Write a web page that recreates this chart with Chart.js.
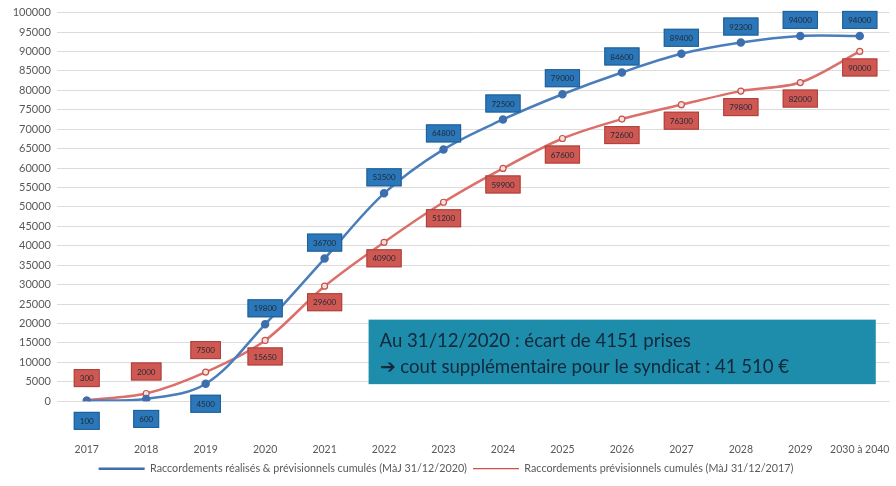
<!DOCTYPE html>
<html>
<head>
<meta charset="utf-8">
<script src="https://cdn.jsdelivr.net/npm/chart.js@4.4.1/dist/chart.umd.min.js"></script>
<style>
  html, body { margin: 0; padding: 0; background: #fff; }
  #wrap { width: 896px; height: 486px; }
</style>
</head>
<body>
<div id="wrap"><canvas id="chart" width="896" height="486"></canvas></div>
<script>
const years = ["2017", "2018", "2019", "2020", "2021", "2022", "2023", "2024", "2025", "2026", "2027", "2028", "2029", "2030 à 2040"];
const realises = [100, 600, 4500, 19800, 36700, 53500, 64800, 72500, 79000, 84600, 89400, 92300, 94000, 94000];
const previsionnels = [300, 2000, 7500, 15650, 29600, 40900, 51200, 59900, 67600, 72600, 76300, 79800, 82000, 90000];
const legendRealises = "Raccordements réalisés & prévisionnels cumulés (MàJ 31/12/2020)";
const legendPrevisionnels = "Raccordements prévisionnels cumulés (MàJ 31/12/2017)";
const noteLines = ["Au 31/12/2020 : écart de 4151 prises", "\u2794 cout supplémentaire pour le syndicat : 41 510 €"];

const blue = '#4a7ebb';
const red = '#dc6f69';
const tickColor = '#595959';
const font = 'Lato';

// value boxes like the Excel data labels
const valueBoxes = {
  id: 'valueBoxes',
  afterDatasetsDraw(chart) {
    const ctx = chart.ctx;
    ctx.save();
    ctx.font = `8px ${font}`;
    ctx.textAlign = 'center';
    ctx.textBaseline = 'middle';
    chart.data.datasets.forEach((ds, di) => {
      const meta = chart.getDatasetMeta(di);
      meta.data.forEach((pt, i) => {
        const txt = String(ds.data[i]);
        let dy;
        if (di === 0) dy = i < 3 ? 20 : -16;
        else dy = i < 3 ? -22 : 16;
        const w = ctx.measureText(txt).width + 12;
        const h = 18;
        const x = pt.x, y = pt.y + dy;
        ctx.fillStyle = ds.boxColor;
        ctx.fillRect(x - w / 2, y - h / 2, w, h);
        ctx.strokeStyle = ds.boxBorder;
        ctx.lineWidth = 1;
        ctx.strokeRect(x - w / 2 + 0.5, y - h / 2 + 0.5, w - 1, h - 1);
        ctx.fillStyle = '#1d2a36';
        ctx.fillText(txt, x, y + 0.5);
      });
    });
    ctx.restore();
  }
};

// teal note box
const noteBox = {
  id: 'noteBox',
  afterDraw(chart) {
    const { ctx, scales: { x, y } } = chart;
    const left = x.getPixelForValue(4) + 44;
    const right = x.getPixelForValue(13) + 16;
    const top = y.getPixelForValue(21000);
    const bottom = y.getPixelForValue(4400);
    ctx.save();
    ctx.fillStyle = '#1d8dab';
    ctx.fillRect(left, top, right - left, bottom - top);
    ctx.fillStyle = '#14283b';
    ctx.font = `18.6px ${font}`;
    ctx.textBaseline = 'middle';
    ctx.fillText(noteLines[0], left + 11, top + 21);
    ctx.fillText(noteLines[1], left + 11, top + 47);
    ctx.restore();
  }
};

new Chart(document.getElementById('chart'), {
  type: 'line',
  data: {
    labels: years,
    datasets: [
      {
        label: legendRealises,
        data: realises,
        borderColor: blue,
        backgroundColor: blue,
        borderWidth: 2.5,
        pointRadius: 3,
        pointBackgroundColor: '#3d6fae',
        pointBorderColor: '#3d6fae',
        tension: 0.35,
        boxColor: '#2b77b9',
        boxBorder: '#1f5f96'
      },
      {
        label: legendPrevisionnels,
        data: previsionnels,
        borderColor: red,
        backgroundColor: red,
        borderWidth: 2.5,
        pointRadius: 3,
        pointBackgroundColor: '#f6e1df',
        pointBorderColor: '#c9504b',
        pointBorderWidth: 1.2,
        tension: 0.3,
        boxColor: '#cf5852',
        boxBorder: '#ad403b'
      }
    ]
  },
  options: {
    responsive: false,
    animation: false,
    layout: { padding: { top: 6, right: 4, left: 0, bottom: 2 } },
    plugins: {
      tooltip: { enabled: false },
      legend: {
        position: 'bottom',
        labels: {
          usePointStyle: true,
          pointStyle: 'line',
          pointStyleWidth: 46,
          color: tickColor,
          font: { family: font, size: 10.75 },
          padding: 6
        }
      }
    },
    scales: {
      x: {
        offset: true,
        grid: { display: false },
        border: { display: false },
        ticks: { color: tickColor, font: { family: font, size: 10.5 }, padding: 34, maxRotation: 0, autoSkip: false },
        afterFit: (scale) => {
          scale.height = 56;
          scale.paddingRight = 0;
          scale.paddingLeft = 0;
        }
      },
      y: {
        min: 0,
        max: 100000,
        ticks: {
          stepSize: 5000,
          color: tickColor,
          font: { family: font, size: 11 },
          padding: 6,
          callback: (v) => String(v)
        },
        grid: { color: '#dcdcdc', drawTicks: false },
        border: { display: false },
        afterFit: (scale) => { scale.width = 57; }
      }
    }
  },
  plugins: [valueBoxes, noteBox]
});
</script>
</body>
</html>
